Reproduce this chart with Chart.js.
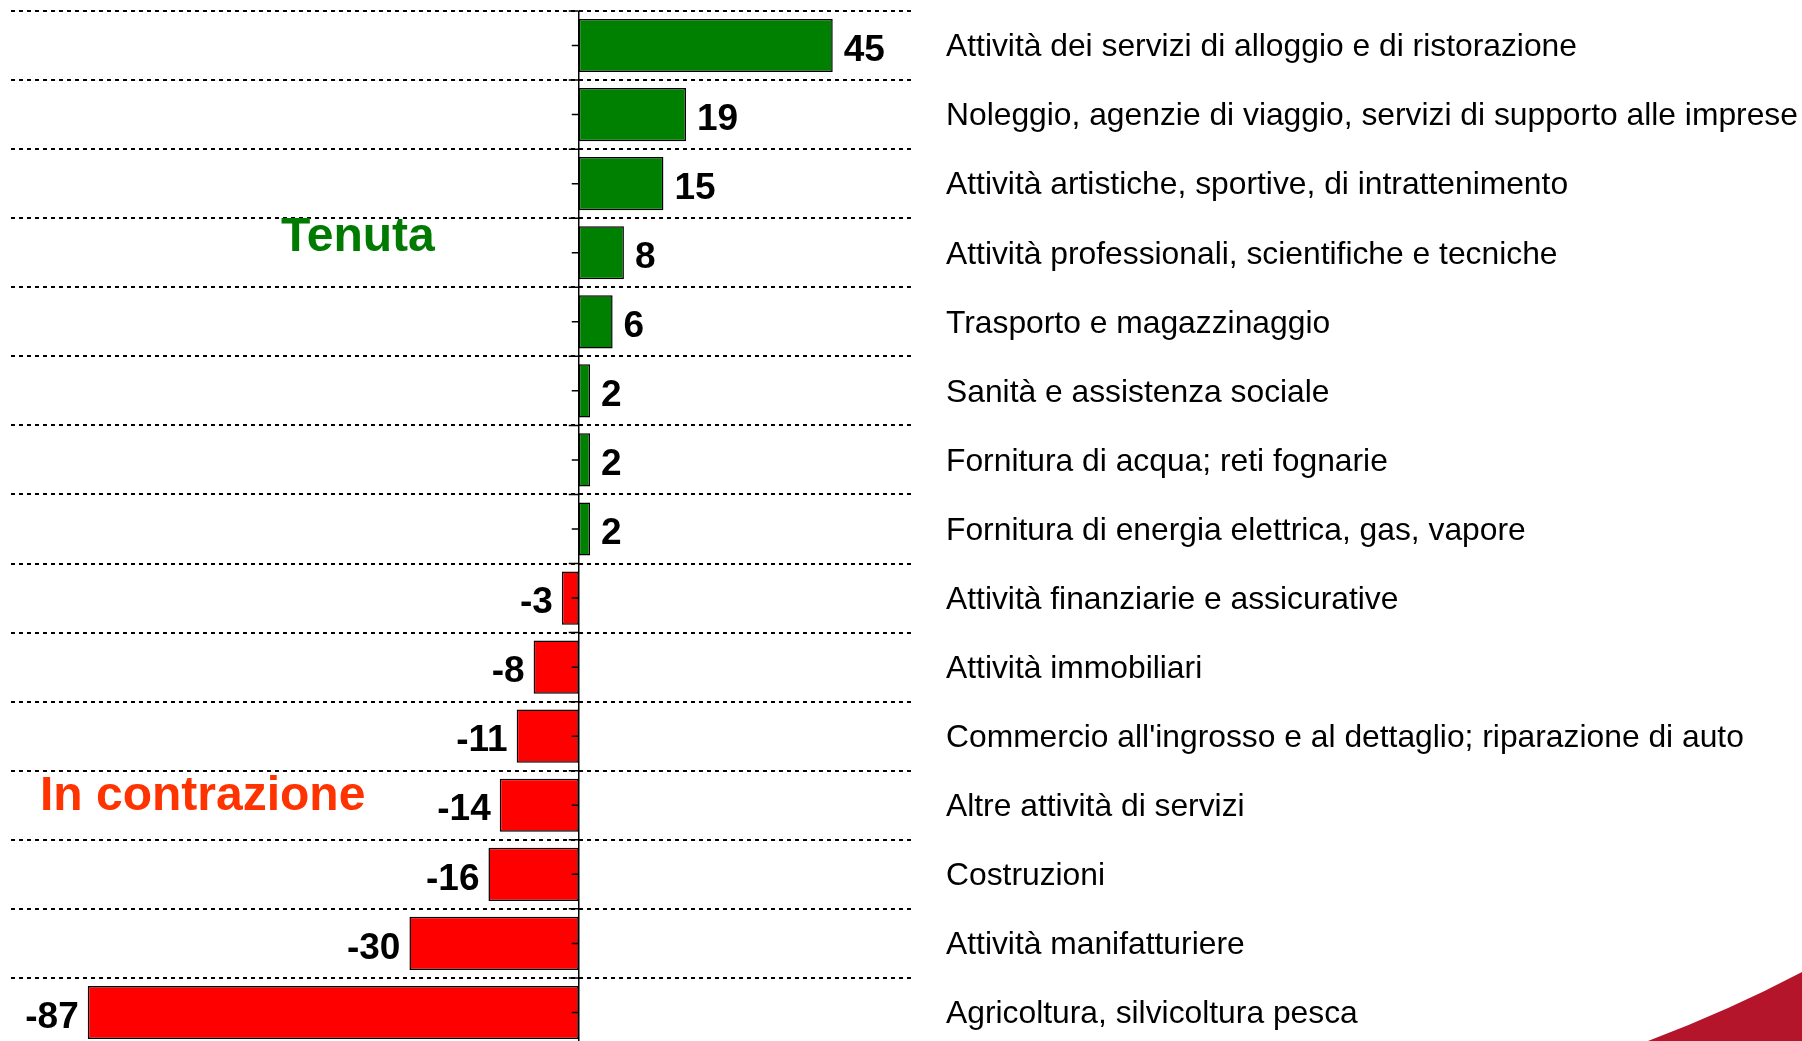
<!DOCTYPE html>
<html>
<head>
<meta charset="utf-8">
<script src="https://cdn.jsdelivr.net/npm/chart.js@4.4.1/dist/chart.umd.min.js"></script>
<style>
    html, body { margin: 0; padding: 0; background: #fff; overflow: hidden; }
    #wrap { position: relative; width: 1802px; height: 1048px; }
    #swoosh { position: absolute; left: 0; top: 0; }
</style>
</head>
<body>
<div id="wrap">
    <canvas id="sectorChart" width="1802" height="1048"></canvas>
    <svg id="swoosh" width="1802" height="1041">
        <path d="M1648 1041 Q1730 1010 1802 972 L1802 1041 Z" fill="#B5152B"/>
    </svg>
</div>
<script>
// Sectors, ordered top to bottom
const categories = [
    'Attività dei servizi di alloggio e di ristorazione',
    'Noleggio, agenzie di viaggio, servizi di supporto alle imprese',
    'Attività artistiche, sportive, di intrattenimento',
    'Attività professionali, scientifiche e tecniche',
    'Trasporto e magazzinaggio',
    'Sanità e assistenza sociale',
    'Fornitura di acqua; reti fognarie',
    'Fornitura di energia elettrica, gas, vapore',
    'Attività finanziarie e assicurative',
    'Attività immobiliari',
    "Commercio all'ingrosso e al dettaglio; riparazione di auto",
    'Altre attività di servizi',
    'Costruzioni',
    'Attività manifatturiere',
    'Agricoltura, silvicoltura pesca'
];
const values = [45, 19, 15, 8, 6, 2, 2, 2, -3, -8, -11, -14, -16, -30, -87];

const GREEN = '#008000';
const RED = '#FF0000';

// zero axis with small ticks, value labels next to each bar, group titles
const extrasPlugin = {
    id: 'extras',
    afterDatasetsDraw(chart) {
        const ctx = chart.ctx;
        const area = chart.chartArea;
        const xs = chart.scales.x;
        const ys = chart.scales.y;
        const x0 = xs.getPixelForValue(0);

        ctx.save();
        ctx.strokeStyle = '#000';
        ctx.lineWidth = 1.5;
        ctx.beginPath();
        ctx.moveTo(x0, area.top);
        ctx.lineTo(x0, area.bottom);
        ctx.stroke();

        const step = ys.getPixelForValue(1) - ys.getPixelForValue(0);
        for (let i = 0; i < categories.length; i++) {
            const yc = ys.getPixelForValue(i);
            ctx.beginPath();
            ctx.moveTo(x0 - 7, yc);
            ctx.lineTo(x0, yc);
            ctx.moveTo(x0 - 10, yc - step / 2);
            ctx.lineTo(x0, yc - step / 2);
            ctx.stroke();
        }

        // bar values
        ctx.fillStyle = '#000';
        ctx.font = 'bold 37px "Liberation Sans", Arial, sans-serif';
        ctx.textBaseline = 'middle';
        const meta = chart.getDatasetMeta(0);
        meta.data.forEach((bar, i) => {
            const v = values[i];
            if (v >= 0) {
                ctx.textAlign = 'left';
                ctx.fillText(String(v), bar.x + 11, bar.y + 5);
            } else {
                ctx.textAlign = 'right';
                ctx.fillText(String(v), bar.x - 9, bar.y + 5);
            }
        });

        // group titles
        ctx.textAlign = 'left';
        ctx.font = 'bold 48px "Liberation Sans", Arial, sans-serif';
        ctx.fillStyle = '#007A00';
        ctx.fillText('Tenuta', 281, 238);
        ctx.fillStyle = '#FF3300';
        ctx.fillText('In contrazione', 40, 797);
        ctx.restore();
    }
};

const chartCtx = document.getElementById('sectorChart').getContext('2d');
const sectorChart = new Chart(chartCtx, {
    type: 'bar',
    data: {
        labels: categories,
        datasets: [
            {
                data: values,
                backgroundColor: values.map(v => v >= 0 ? GREEN : RED),
                borderColor: '#000',
                borderWidth: 1.5,
                borderSkipped: false,
                barPercentage: 0.77,
                categoryPercentage: 1.0
            }
        ]
    },
    options: {
        indexAxis: 'y',
        responsive: false,
        animation: false,
        layout: {
            padding: { left: 11, top: 11, right: 0, bottom: 1 }
        },
        plugins: {
            legend: { display: false },
            tooltip: { enabled: false }
        },
        scales: {
            x: {
                min: -100.6,
                max: 59.4,
                ticks: { display: false },
                border: { display: false },
                grid: { display: false, drawTicks: false }
            },
            y: {
                position: 'right',
                border: { display: false, dash: [4, 4] },
                afterFit: scale => {
                    scale.width = 1802 - 914;
                    scale.paddingTop = 0;
                    scale.paddingBottom = 0;
                },
                grid: {
                    offset: true,
                    drawTicks: false,
                    color: '#000',
                    lineWidth: 2
                },
                ticks: {
                    padding: 32,
                    labelOffset: 2,
                    color: '#000',
                    font: { family: '"Liberation Sans", Arial, sans-serif', size: 31.8 }
                }
            }
        }
    },
    plugins: [extrasPlugin]
});
</script>
</body>
</html>
